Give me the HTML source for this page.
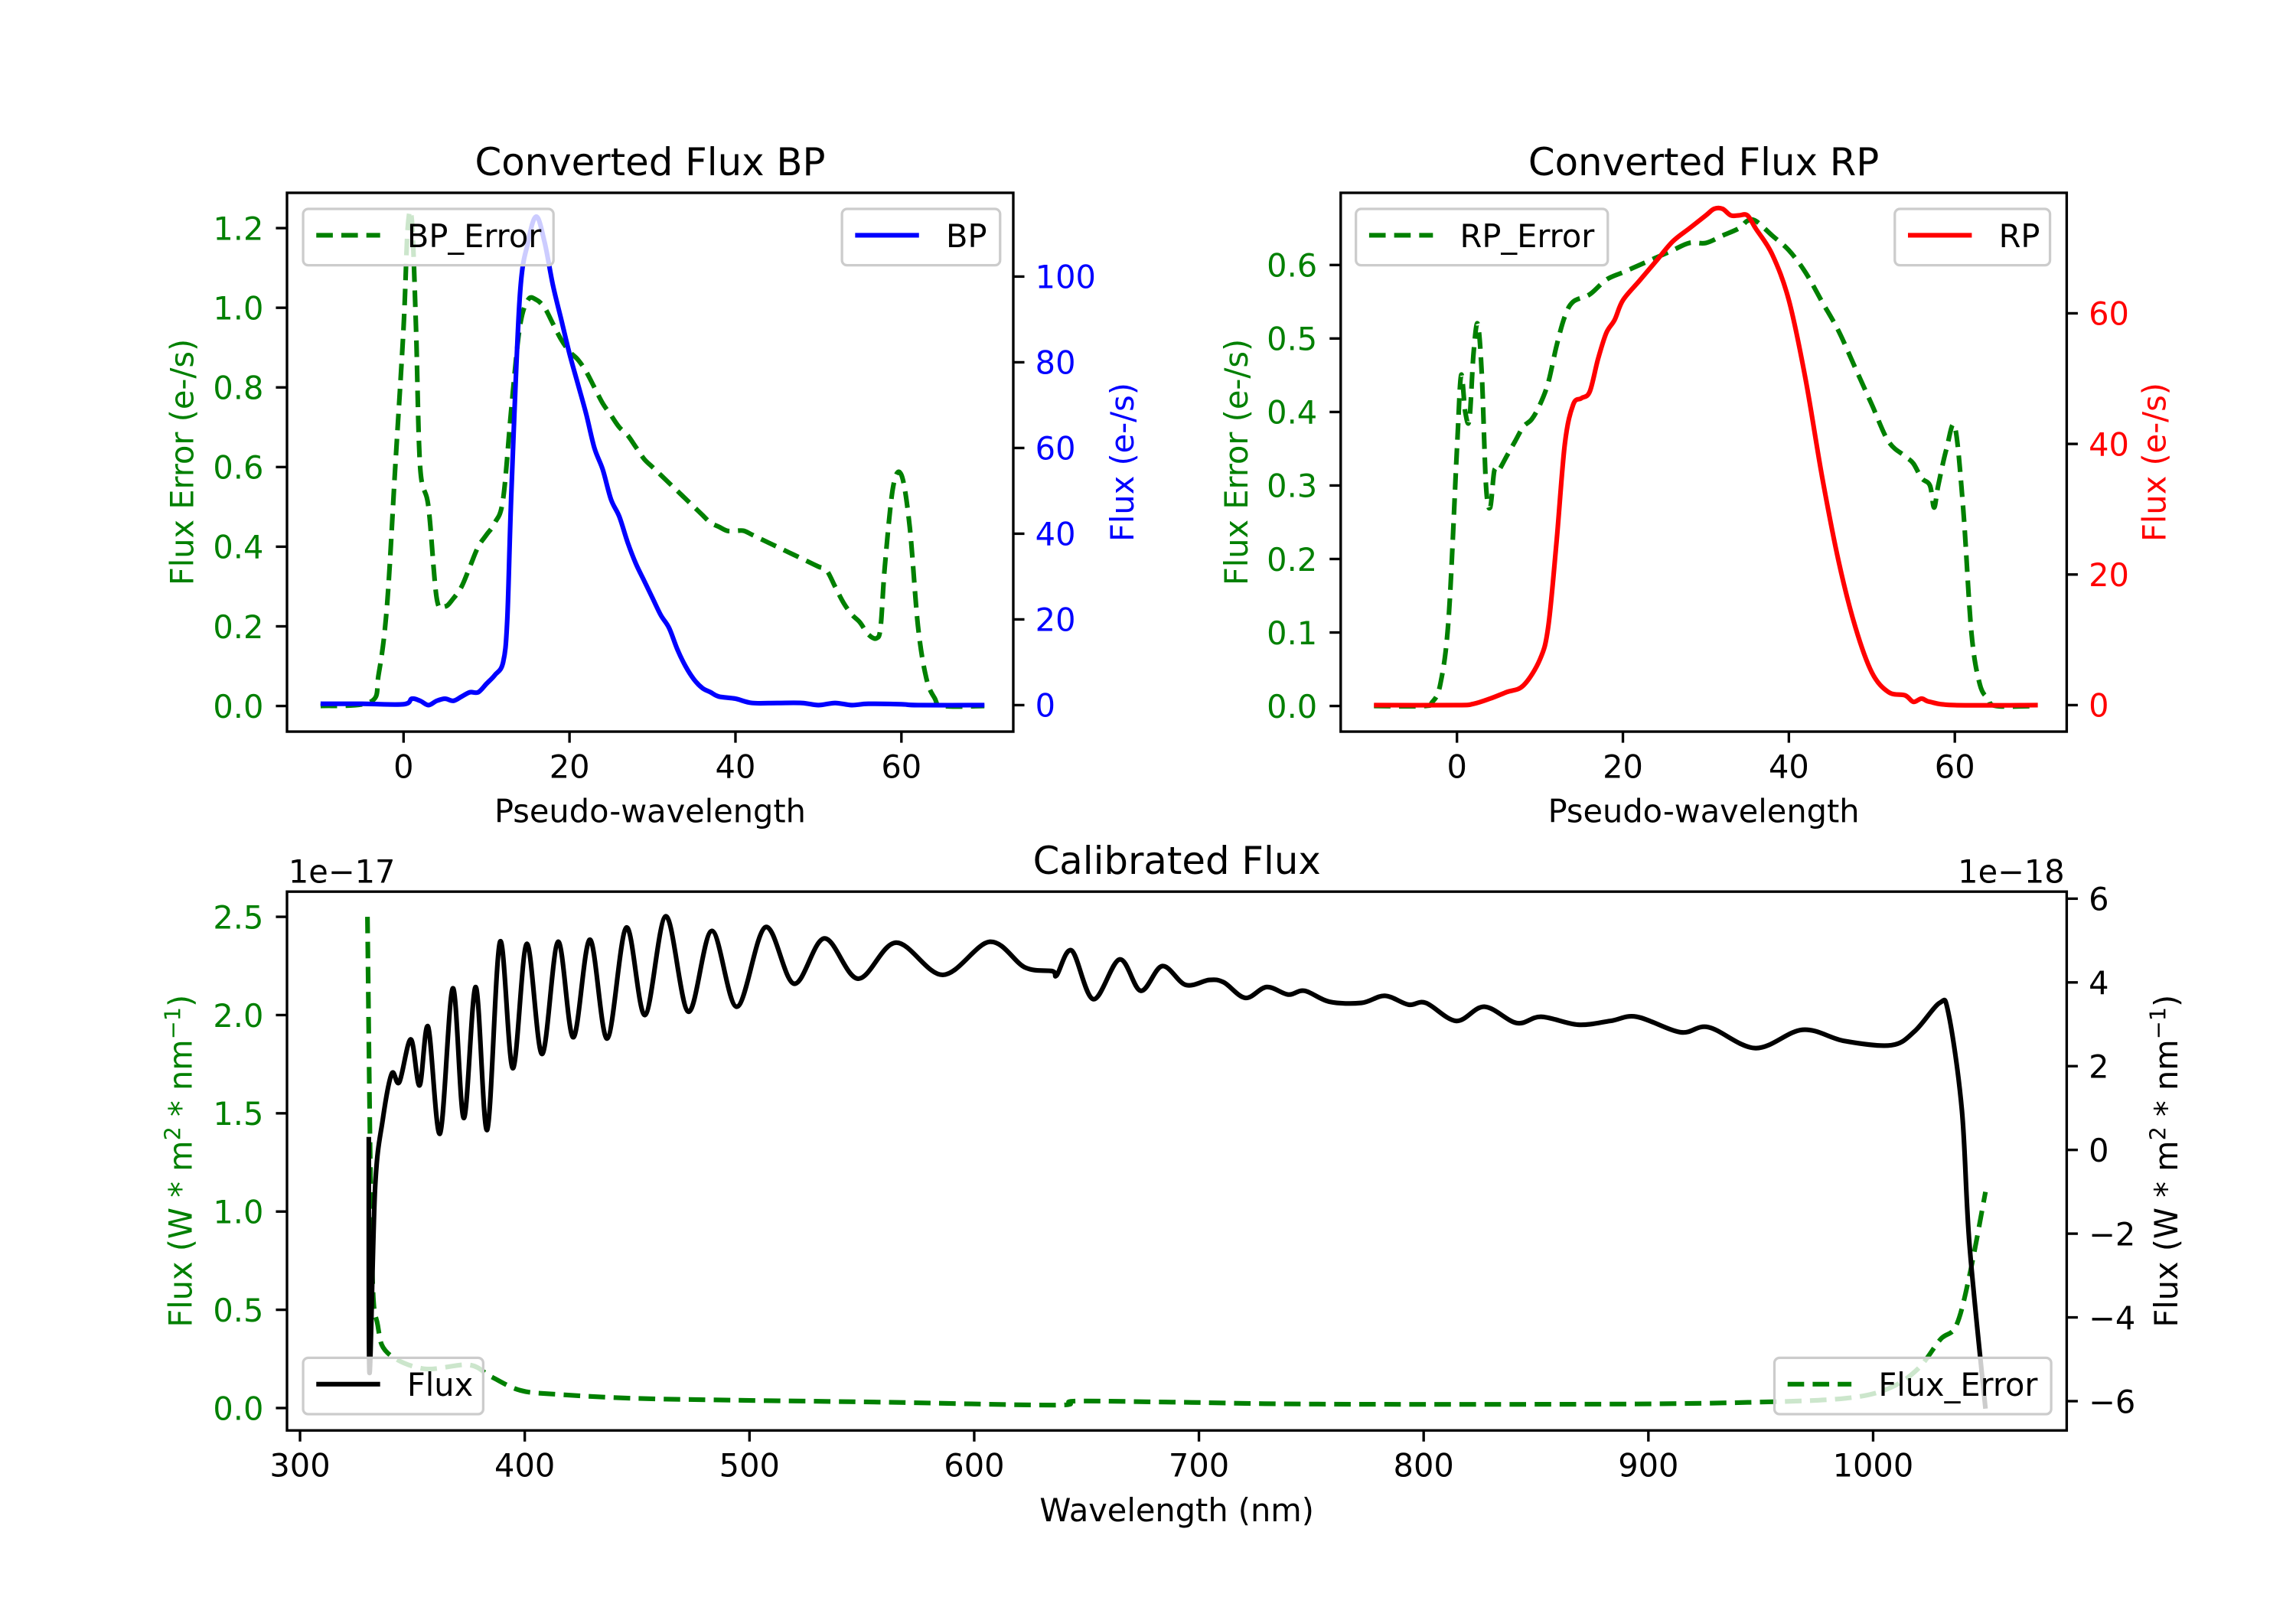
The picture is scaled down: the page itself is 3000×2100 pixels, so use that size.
<!DOCTYPE html>
<html><head><meta charset="utf-8"><style>
html,body{margin:0;padding:0;background:#fff}
svg{display:block}
text{font-family:"DejaVu Sans","Liberation Sans",sans-serif}
</style></head><body>
<svg id="fig" width="3000" height="2100" viewBox="0 0 1568 1097.6" preserveAspectRatio="none" xmlns="http://www.w3.org/2000/svg">
<rect width="1568" height="1097.6" fill="#fff"/>
</svg>
<script>
// ---- BP panel data ----
const bpErrX = [-10,-4,-3,-2,-1,0,0.5,1,1.5,2,3,4,5,6,7,8,9,10,11,12,13,14,15,16,17,18,19,20,21,22,23,24,25,26,27,28,29,30,31,32,33,34,35,36,37,38,39,40,41,42,43,44,45,46,47,48,49,50,51,52,53,54,55,56,57,57.5,58,59,60,61,62,63,64,65,70];
const bpErrY = [0,0.01,0.08,0.25,0.6,0.95,1.2,1.22,0.95,0.6,0.5,0.27,0.25,0.27,0.3,0.35,0.4,0.43,0.46,0.52,0.75,0.95,1.02,1.02,1.0,0.96,0.92,0.89,0.87,0.84,0.8,0.76,0.73,0.7,0.68,0.65,0.62,0.6,0.58,0.56,0.54,0.52,0.5,0.48,0.46,0.45,0.44,0.44,0.44,0.43,0.42,0.41,0.40,0.39,0.38,0.37,0.36,0.35,0.34,0.30,0.26,0.23,0.21,0.18,0.17,0.2,0.35,0.55,0.58,0.45,0.2,0.07,0.02,0,0];
const bpX = [-10,-5,0,1,2,3,4,5,6,7,8,9,10,11,12,12.5,13,14,15,16,17,18,19,20,21,22,23,24,25,26,27,28,29,30,31,32,33,34,35,36,37,38,40,42,45,48,50,52,54,56,60,62,70];
const bpY = [0.3,0.3,0.2,1.5,1,0,1,1.5,1,2,3,3,5,7,10,20,50,95,108,114,108,98,90,82,75,68,60,55,48,44,38,33,29,25,21,18,13,9,6,4,3,2,1.5,0.5,0.5,0.5,0,0.5,0,0.3,0.2,0,0];
const bpXTicks = [0,20,40,60];
const bpLTicks = [0.0,0.2,0.4,0.6,0.8,1.0,1.2];
const bpRTicks = [0,20,40,60,80,100];
// ---- RP panel data ----
const rpErrX = [-10,-4,-3,-2,-1,0,0.5,1,1.5,2,2.5,3,3.5,4,4.5,5,6,7,8,9,10,11,12,13,14,16,18,20,22,24,26,28,30,32,34,35,36,38,40,42,44,46,48,50,52,54,55,56,57,57.5,58,59,60,61,62,63,64,65,70];
const rpErrY = [0,0,0.005,0.03,0.12,0.35,0.45,0.4,0.39,0.48,0.52,0.45,0.3,0.27,0.32,0.32,0.34,0.36,0.38,0.39,0.41,0.44,0.49,0.53,0.55,0.56,0.58,0.59,0.6,0.61,0.62,0.63,0.63,0.64,0.65,0.66,0.66,0.64,0.62,0.59,0.55,0.51,0.46,0.41,0.36,0.34,0.33,0.31,0.3,0.27,0.3,0.35,0.38,0.27,0.1,0.03,0.01,0,0];
const rpX = [-10,0,2,4,6,8,10,11,12,13,14,15,16,17,18,19,20,22,24,26,28,30,31,32,33,34,35,36,38,40,42,44,46,48,50,52,54,55,56,57,60,70];
const rpY = [0,0,0.2,1,2,3,7,12,25,40,46,47,48,53,57,59,62,65,68,71,73,75,76,76,75,75,75,73,69,62,50,35,22,12,5,2,1.5,0.5,1,0.5,0,0];
const rpXTicks = [0,20,40,60];
const rpLTicks = [0.0,0.1,0.2,0.3,0.4,0.5,0.6];
const rpRTicks = [0,20,40,60];
// ---- Calibrated panel data (flux in 1e-18, error in 1e-17) ----
const calX = [330.6,330.9,333.4,336.8,340.8,344.2,349.3,353.2,357.0,362.3,
  368.0,372.9,378.2,383.3,389.0,394.7,400.9,407.7,414.8,421.6,
  429.0,436.7,445.2,453.5,462.8,472.8,483.2,494.4,507.1,519.8,
  533.3,548.3,565.2,586.0,606.9,622.5,634.7,636.7,643.4,653.0,
  664.7,674.1,683.7,694.1,704.6,711.1,720.7,730.1,739.7,747.0,
  758.0,772.3,782.7,793.2,801.0,814.5,827.0,841.4,852.3,868.7,
  883.1,894.8,914.3,926.8,947.7,968.6,987.3,1008.1,1018.6,1029.6,
  1033.5,1039.5,1042.9,1050.0];
const calY = [0.31,-5.32,-0.91,0.72,1.82,1.62,2.64,1.54,2.94,0.39,
  3.86,0.76,3.89,0.48,4.97,1.95,4.92,2.29,4.97,2.69,
  5.02,2.66,5.31,3.22,5.58,3.30,5.23,3.42,5.32,3.97,
  5.05,4.09,4.95,4.18,4.97,4.36,4.27,4.17,4.76,3.6,
  4.55,3.8,4.39,3.94,4.06,4.0,3.63,3.89,3.71,3.8,
  3.54,3.51,3.68,3.47,3.51,3.08,3.42,3.03,3.18,2.99,
  3.08,3.18,2.81,2.93,2.43,2.87,2.6,2.5,2.84,3.51,
  3.27,0.95,-2.27,-6.18];
const calErrX = [330,332,334.6,339,355,375,385,398,414,447,492,558,636,645,688,753,883,949,988,1007,1020,1030,1037,1043,1050];
const calErrY = [2.5,0.76,0.42,0.28,0.2,0.22,0.16,0.09,0.07,0.05,0.04,0.03,0.015,0.035,0.03,0.02,0.02,0.03,0.05,0.1,0.2,0.35,0.42,0.68,1.1];
const calXTicks = [300,400,500,600,700,800,900,1000];
const calLTicks = [0.0,0.5,1.0,1.5,2.0,2.5];
const calRTicks = [-6,-4,-2,0,2,4,6];

const NS = 'http://www.w3.org/2000/svg';
const svg = document.getElementById('fig');
const FS = 21.7;
function el(tag, attrs, parent) {
  const e = document.createElementNS(NS, tag);
  for (const k in attrs) e.setAttribute(k, attrs[k]);
  (parent || svg).appendChild(e);
  return e;
}
function lin(d0, d1, p0, p1) { return v => p0 + (v - d0) * (p1 - p0) / (d1 - d0); }
function smoothPath(xs, ys, sx, sy) {
  const P = xs.map((x, i) => [sx(x), sy(ys[i])]);
  let d = 'M' + P[0][0].toFixed(2) + ',' + P[0][1].toFixed(2);
  for (let i = 0; i < P.length - 1; i++) {
    const p0 = P[Math.max(i - 1, 0)], p1 = P[i], p2 = P[i + 1], p3 = P[Math.min(i + 2, P.length - 1)];
    const c1 = [p1[0] + (p2[0] - p0[0]) / 6, p1[1] + (p2[1] - p0[1]) / 6];
    const c2 = [p2[0] - (p3[0] - p1[0]) / 6, p2[1] - (p3[1] - p1[1]) / 6];
    d += ' C' + c1[0].toFixed(2) + ',' + c1[1].toFixed(2) + ' ' + c2[0].toFixed(2) + ',' + c2[1].toFixed(2) + ' ' + p2[0].toFixed(2) + ',' + p2[1].toFixed(2);
  }
  return d;
}
function fmt(v, dec) { const s = v.toFixed(dec); return s.replace('-', '\u2212'); }
function label(x, y, txt, opts, name) {
  const t = el('text', Object.assign({ x: x, y: y, 'font-size': FS }, opts || {}));
  t.textContent = txt;
  
  
  return t;
}
function legend(x, y, w, txt, color, dashed, name) {
  const g = el('g', {});
  
  
  el('rect', { x: x, y: y, width: w, height: 38.5, rx: 3.5, fill: 'rgba(255,255,255,0.8)', stroke: '#cccccc', 'stroke-width': 1.7 }, g);
  el('line', Object.assign({ x1: x + 9, x2: x + 52.6, y1: y + 18, y2: y + 18, stroke: color, 'stroke-width': 3.2 }, dashed ? { 'stroke-dasharray': '11.3,5.8' } : {}), g);
  const t = el('text', { x: x + 71, y: y + 26, 'font-size': FS, 'text-anchor': 'start', fill: '#000' }, g);
  t.textContent = txt;
}

function panel(cfg) {
  const g = el('g', {});
  
  
  const sx = lin(cfg.xd[0], cfg.xd[1], cfg.xp[0], cfg.xp[1]);
  const syL = lin(cfg.yLd[0], cfg.yLd[1], cfg.yLp[0], cfg.yLp[1]);
  const syR = lin(cfg.yRd[0], cfg.yRd[1], cfg.yRp[0], cfg.yRp[1]);
  const L = cfg.box[0], T = cfg.box[1], R = cfg.box[2], B = cfg.box[3];
  const cid = cfg.name + '-clip';
  const cp = el('clipPath', { id: cid }, g);
  el('rect', { x: L, y: T, width: R - L, height: B - T }, cp);
  const l1 = el('path', { d: smoothPath(cfg.lx, cfg.ly, sx, syL), fill: 'none', stroke: cfg.lColor, 'stroke-width': 3.2, 'stroke-dasharray': '11.3,5.8', 'clip-path': 'url(#' + cid + ')' }, g);
  
  
  legend(cfg.legL[0], cfg.legL[1], cfg.legL[2], cfg.legLText, cfg.lColor, true, cfg.lName + '-legend');
  const l2 = el('path', { d: smoothPath(cfg.rx, cfg.ry, sx, syR), fill: 'none', stroke: cfg.rColor, 'stroke-width': 3.2, 'stroke-linejoin': 'round', 'clip-path': 'url(#' + cid + ')' }, g);
  
  
  legend(cfg.legR[0], cfg.legR[1], cfg.legR[2], cfg.legRText, cfg.rColor, false, cfg.rName + '-legend');
  el('rect', { x: L, y: T, width: R - L, height: B - T, fill: 'none', stroke: '#000', 'stroke-width': 1.75 }, g);
  cfg.xt.forEach(v => {
    const x = sx(v);
    el('line', { x1: x, x2: x, y1: B, y2: B + 7.6, stroke: '#000', 'stroke-width': 1.75 }, g);
    label(x, B + 31.5, fmt(v, 0), { 'text-anchor': 'middle', fill: '#000' }, 'x-tick-label');
  });
  cfg.ylt.forEach(v => {
    const y = syL(v);
    el('line', { x1: L - 7.6, x2: L, y1: y, y2: y, stroke: '#000', 'stroke-width': 1.75 }, g);
    label(L - 16, y + 8, fmt(v, cfg.ylDec), { 'text-anchor': 'end', fill: cfg.lColor }, 'left-y-tick-label');
  });
  cfg.yrt.forEach(v => {
    const y = syR(v);
    el('line', { x1: R, x2: R + 7.6, y1: y, y2: y, stroke: '#000', 'stroke-width': 1.75 }, g);
    label(R + 15, y + 8, fmt(v, 0), { 'text-anchor': 'start', fill: cfg.rColor }, 'right-y-tick-label');
  });
  label((L + R) / 2, T - 12, cfg.title, { 'text-anchor': 'middle', 'font-size': 26, fill: '#000' }, 'chart-title');
  label((L + R) / 2, B + 62, cfg.xlabel, { 'text-anchor': 'middle', fill: '#000' }, 'x-axis-title');
  const my = (T + B) / 2;
  const yl = label(0, 0, '', { 'text-anchor': 'middle', fill: cfg.lColor, transform: 'translate(' + (cfg.ylX + 8) + ',' + my + ') rotate(-90)' }, 'left-y-axis-title');
  yl.innerHTML = cfg.ylabel;
  const yr = label(0, 0, '', { 'text-anchor': 'middle', fill: cfg.rColor, transform: 'translate(' + (cfg.yrX + 8) + ',' + my + ') rotate(-90)' }, 'right-y-axis-title');
  yr.innerHTML = cfg.yrlabel;
}

const supLabel = 'Flux (W * m<tspan font-size="15" dy="-8">2</tspan><tspan dy="8"> * nm</tspan><tspan font-size="15" dy="-8">\u22121</tspan><tspan dy="8">)</tspan>';
panel({ name: 'bp-panel', box: [196, 131.7, 692, 499.7], xd: [0, 60], xp: [275.6, 615.6], yLd: [0, 1.2], yLp: [482.2, 155.8], yRd: [0, 100], yRp: [481.6, 188.9],
  lx: bpErrX, ly: bpErrY, rx: bpX, ry: bpY, lColor: '#008000', rColor: '#0000ff', lName: 'bp-error', rName: 'bp',
  legL: [207, 142.7, 171], legLText: 'BP_Error', legR: [575, 142.7, 108], legRText: 'BP',
  xt: bpXTicks, ylt: bpLTicks, yrt: bpRTicks, ylDec: 1, title: 'Converted Flux BP', xlabel: 'Pseudo-wavelength',
  ylX: 124, yrX: 766, ylabel: 'Flux Error (e-/s)', yrlabel: 'Flux (e-/s)' });
panel({ name: 'rp-panel', box: [915.6, 131.7, 1411.4, 499.7], xd: [0, 60], xp: [995, 1335], yLd: [0, 0.6], yLp: [482.2, 181], yRd: [0, 60], yRp: [481.6, 214],
  lx: rpErrX, ly: rpErrY, rx: rpX, ry: rpY, lColor: '#008000', rColor: '#ff0000', lName: 'rp-error', rName: 'rp',
  legL: [926, 142.7, 172], legLText: 'RP_Error', legR: [1294, 142.7, 106], legRText: 'RP',
  xt: rpXTicks, ylt: rpLTicks, yrt: rpRTicks, ylDec: 1, title: 'Converted Flux RP', xlabel: 'Pseudo-wavelength',
  ylX: 844, yrX: 1471, ylabel: 'Flux Error (e-/s)', yrlabel: 'Flux (e-/s)' });
panel({ name: 'calibrated-panel', box: [196, 609, 1411.4, 977], xd: [300, 1000], xp: [204.9, 1279.2], yLd: [0, 2.5], yLp: [961.7, 626.2], yRd: [-6, 6], yRp: [957, 613.8],
  lx: calErrX, ly: calErrY, rx: calX, ry: calY, lColor: '#008000', rColor: '#000000', lName: 'flux-error', rName: 'flux',
  legL: [1211.8, 927.4, 189], legLText: 'Flux_Error', legR: [207, 927.4, 123], legRText: 'Flux',
  xt: calXTicks, ylt: calLTicks, yrt: calRTicks, ylDec: 1, title: 'Calibrated Flux', xlabel: 'Wavelength (nm)',
  ylX: 123, yrX: 1479, ylabel: supLabel, yrlabel: supLabel });
label(197, 603, '1e\u221217', { 'text-anchor': 'start', fill: '#000' }, 'left-offset-text');
label(1410, 603, '1e\u221218', { 'text-anchor': 'end', fill: '#000' }, 'right-offset-text');
</script>
</body></html>
